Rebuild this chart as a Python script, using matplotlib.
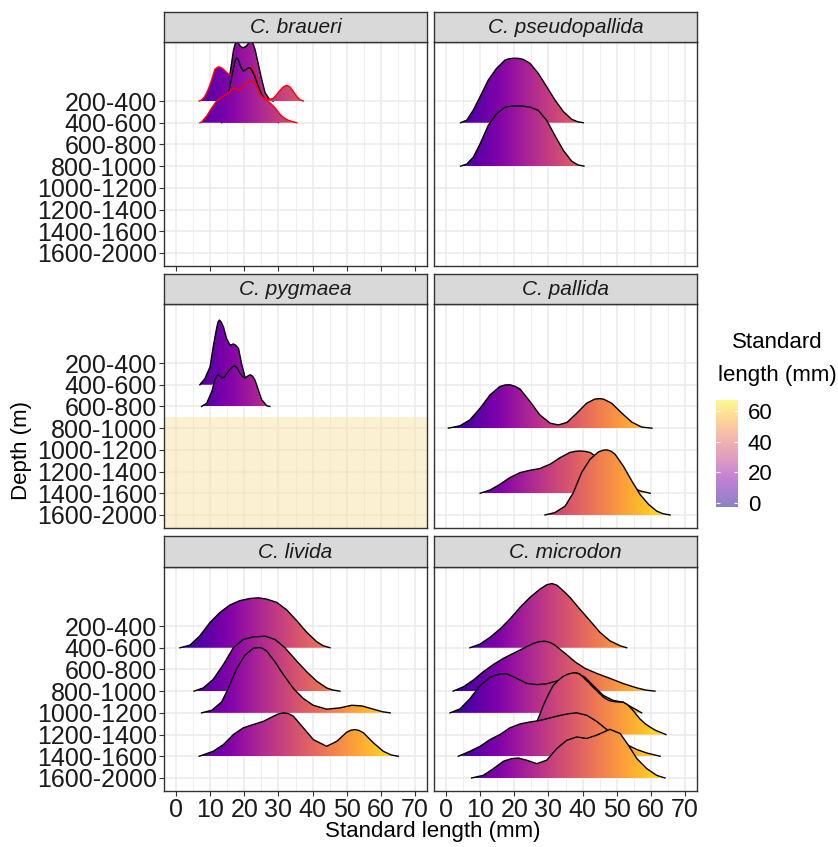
import numpy as np
import matplotlib
matplotlib.use("Agg")
import matplotlib.pyplot as plt
from matplotlib.patches import Polygon

plt.rcParams['font.family'] = ['Liberation Sans', 'DejaVu Sans']

# categories
species = ["C. braueri", "C. pseudopallida", "C. pygmaea",
           "C. pallida", "C. livida", "C. microdon"]
depths = ["200-400", "400-600", "600-800", "800-1000",
          "1000-1200", "1200-1400", "1400-1600", "1600-2000"]
x_ticks = [0, 10, 20, 30, 40, 50, 60, 70]
legend_ticks = [0, 20, 40, 60]
fill_min, fill_max = -2.6, 67.2

# ridge outlines: standard length (mm) and ridge height (in depth-row units)
braueri_200_black_x = [14.0, 14.4, 15.3, 16.3, 16.8, 17.3, 17.8, 18.3, 18.9, 19.7, 20.5, 21.3, 22.0, 22.6, 23.2, 23.6, 24.4, 25.1, 26.1, 27.5, 28.5]
braueri_200_black_h = [0.0, 0.05, 0.69, 1.76, 2.3, 2.62, 2.72, 2.66, 2.52, 2.45, 2.52, 2.67, 2.72, 2.64, 2.35, 2.07, 1.5, 1.0, 0.38, 0.05, 0.0]
braueri_200_red_x = [6.8, 7.5, 8.3, 9.0, 9.8, 10.5, 11.4, 12.4, 13.2, 13.9, 15.3, 17.0, 19.0, 21.0, 22.2, 23.2, 24.2, 25.1, 26.1, 27.5, 28.5, 29.5, 30.5, 31.5, 32.4, 33.3, 34.2, 35.3, 36.3, 37.3]
braueri_200_red_h = [0.0, 0.05, 0.18, 0.38, 0.68, 1.0, 1.46, 1.58, 1.54, 1.46, 1.25, 1.2, 1.3, 1.5, 1.55, 1.2, 0.55, 0.2, 0.1, 0.08, 0.12, 0.3, 0.5, 0.66, 0.72, 0.66, 0.48, 0.22, 0.06, 0.0]
braueri_400_black_x = [13.4, 13.9, 14.8, 15.8, 16.3, 16.8, 17.3, 17.8, 18.3, 18.9, 19.7, 20.5, 21.2, 21.7, 22.3, 23.0, 24.1, 25.1, 26.1, 27.0, 28.0, 29.0, 30.0]
braueri_400_black_h = [0.0, 0.31, 0.92, 1.69, 2.1, 2.46, 2.85, 3.0, 2.88, 2.6, 2.38, 2.45, 2.53, 2.53, 2.4, 2.15, 1.69, 1.31, 1.08, 0.7, 0.4, 0.15, 0.0]
braueri_400_red_x = [7.0, 7.5, 9.0, 10.5, 11.9, 13.9, 15.3, 16.8, 18.3, 19.3, 20.2, 21.2, 22.2, 23.0, 23.6, 24.6, 26.1, 27.5, 29.0, 30.5, 31.5, 32.4, 33.5, 35.4]
braueri_400_red_h = [0.0, 0.03, 0.31, 0.69, 1.0, 1.23, 1.38, 1.61, 1.51, 1.6, 1.77, 1.88, 1.92, 1.85, 1.69, 1.31, 1.08, 0.92, 0.69, 0.38, 0.24, 0.15, 0.08, 0.0]

pseudopallida_400_x = [4.3, 6.1, 8.0, 10.0, 12.4, 14.8, 17.3, 18.5, 19.7, 21.0, 22.6, 24.6, 27.0, 29.5, 31.9, 34.4, 36.8, 38.5, 40.2]
pseudopallida_400_h = [0.0, 0.12, 0.58, 1.2, 1.97, 2.5, 2.89, 2.95, 2.97, 2.97, 2.92, 2.74, 2.28, 1.66, 1.05, 0.51, 0.16, 0.05, 0.0]
pseudopallida_800_x = [4.3, 6.1, 8.0, 10.0, 12.4, 14.8, 17.3, 19.7, 22.1, 24.6, 27.0, 29.5, 31.9, 34.4, 36.8, 38.6, 40.4]
pseudopallida_800_h = [0.0, 0.1, 0.41, 1.03, 1.88, 2.41, 2.72, 2.77, 2.77, 2.72, 2.57, 2.11, 1.41, 0.72, 0.23, 0.06, 0.0]

pygmaea_400_x = [7.0, 8.5, 10.0, 10.9, 11.9, 12.3, 12.7, 13.2, 13.9, 14.8, 15.8, 16.3, 16.8, 17.5, 18.3, 19.2, 20.2, 21.2]
pygmaea_400_h = [0.0, 0.29, 0.83, 1.75, 2.6, 2.88, 2.98, 2.9, 2.67, 2.14, 1.83, 1.84, 1.88, 1.82, 1.68, 0.98, 0.37, 0.0]
pygmaea_600_x = [7.5, 9.0, 10.5, 11.4, 11.9, 12.4, 13.0, 13.9, 14.6, 15.3, 16.5, 17.3, 18.0, 18.7, 19.5, 20.2, 21.0, 21.7, 22.4, 23.1, 24.1, 25.1, 26.6, 27.5]
pygmaea_600_h = [0.0, 0.15, 0.69, 1.23, 1.4, 1.46, 1.38, 1.31, 1.45, 1.61, 1.82, 1.87, 1.76, 1.54, 1.38, 1.31, 1.4, 1.46, 1.4, 1.23, 0.77, 0.31, 0.03, 0.0]

pallida_800_x = [0.7, 4.1, 7.0, 10.0, 12.9, 15.8, 17.3, 18.7, 20.2, 21.7, 24.6, 27.5, 30.5, 32.9, 35.4, 38.3, 41.2, 43.6, 44.9, 46.1, 48.5, 51.5, 54.4, 57.3, 60.3]
pallida_800_h = [0.0, 0.11, 0.38, 0.92, 1.53, 1.92, 1.99, 2.0, 1.93, 1.8, 1.23, 0.61, 0.23, 0.15, 0.26, 0.69, 1.15, 1.34, 1.36, 1.34, 1.15, 0.69, 0.28, 0.05, 0.0]
pallida_1400_x = [10.0, 12.9, 15.8, 18.7, 21.7, 24.6, 27.5, 30.5, 33.4, 36.3, 37.8, 39.2, 40.7, 42.2, 45.1, 48.0, 51.0, 53.9, 56.8, 59.8]
pallida_1400_h = [0.0, 0.15, 0.41, 0.72, 0.95, 1.06, 1.14, 1.34, 1.64, 1.88, 1.93, 1.95, 1.93, 1.88, 1.57, 1.18, 0.72, 0.34, 0.11, 0.0]
pallida_1600_x = [29.0, 31.9, 34.9, 37.3, 39.7, 42.2, 44.6, 45.9, 47.1, 48.3, 49.5, 51.9, 54.4, 56.8, 59.3, 61.7, 63.5, 65.6]
pallida_1600_h = [0.0, 0.11, 0.41, 1.03, 1.95, 2.57, 2.9, 2.98, 3.0, 2.94, 2.8, 2.26, 1.57, 0.95, 0.49, 0.18, 0.06, 0.0]

livida_400_x = [1.2, 4.1, 7.0, 10.0, 12.9, 15.8, 18.7, 21.7, 24.1, 26.6, 29.5, 32.4, 35.4, 38.3, 41.2, 43.0, 45.1]
livida_400_h = [0.0, 0.12, 0.55, 1.17, 1.63, 1.97, 2.17, 2.27, 2.3, 2.24, 2.09, 1.75, 1.24, 0.71, 0.28, 0.1, 0.0]
livida_800_x = [5.3, 8.0, 10.9, 13.9, 16.8, 19.7, 22.6, 26.1, 29.0, 31.9, 35.4, 38.3, 41.2, 44.1, 46.0, 48.0]
livida_800_h = [0.0, 0.15, 0.54, 1.23, 2.0, 2.38, 2.5, 2.53, 2.38, 2.0, 1.38, 0.89, 0.46, 0.15, 0.05, 0.0]
livida_1000_x = [7.5, 10.5, 13.4, 15.3, 17.8, 20.2, 22.6, 23.6, 24.6, 25.6, 26.6, 29.0, 31.4, 34.4, 37.3, 40.2, 44.1, 48.0, 51.5, 54.4, 57.8, 60.5, 62.7]
livida_1000_h = [0.0, 0.12, 0.51, 1.12, 2.05, 2.66, 2.97, 3.0, 3.01, 2.95, 2.84, 2.35, 1.77, 1.12, 0.66, 0.35, 0.17, 0.23, 0.35, 0.32, 0.17, 0.05, 0.0]
livida_1400_x = [6.8, 10.9, 13.9, 16.8, 19.7, 22.6, 25.6, 28.5, 30.0, 31.4, 32.9, 34.4, 37.3, 40.2, 44.1, 47.1, 50.0, 51.2, 52.4, 53.6, 54.9, 57.8, 60.7, 63.0, 65.1]
livida_1400_h = [0.0, 0.23, 0.54, 1.0, 1.31, 1.46, 1.61, 1.84, 1.95, 2.0, 1.97, 1.84, 1.31, 0.77, 0.46, 0.69, 1.11, 1.2, 1.23, 1.19, 1.08, 0.62, 0.23, 0.06, 0.0]

microdon_400_x = [7.0, 10.0, 12.9, 15.8, 18.7, 21.7, 24.6, 27.5, 29.5, 31.0, 32.5, 34.5, 36.3, 39.2, 42.2, 45.1, 48.0, 51.0, 52.9]
microdon_400_h = [0.0, 0.17, 0.48, 0.86, 1.32, 1.86, 2.32, 2.7, 2.9, 2.96, 2.88, 2.6, 2.32, 1.78, 1.24, 0.71, 0.32, 0.09, 0.0]
microdon_800_x = [2.1, 5.1, 8.0, 10.9, 13.9, 16.8, 19.7, 22.6, 25.6, 27.3, 29.0, 30.5, 31.9, 34.9, 37.8, 40.7, 44.1, 48.0, 51.9, 55.9, 58.5, 61.2]
microdon_800_h = [0.0, 0.2, 0.51, 0.89, 1.23, 1.51, 1.74, 1.97, 2.2, 2.28, 2.3, 2.24, 2.12, 1.74, 1.35, 1.05, 0.82, 0.59, 0.35, 0.15, 0.05, 0.0]
microdon_1000_x = [1.2, 4.1, 7.0, 10.0, 12.9, 15.8, 17.8, 20.7, 23.6, 26.6, 29.5, 32.9, 35.8, 38.3, 40.7, 43.1, 46.1, 49.0, 51.9, 54.4, 57.3]
microdon_1000_h = [0.0, 0.18, 0.65, 1.26, 1.64, 1.8, 1.8, 1.59, 1.36, 1.3, 1.34, 1.49, 1.72, 1.84, 1.64, 1.26, 0.8, 0.57, 0.49, 0.26, 0.0]
microdon_1200_x = [21.0, 23.0, 24.6, 26.1, 27.3, 28.5, 30.0, 31.4, 32.9, 34.4, 36.0, 37.5, 39.0, 40.2, 41.6, 43.1, 44.6, 46.1, 47.6, 49.0, 50.5, 51.9, 53.1, 54.4, 55.6, 56.8, 58.3, 59.8, 61.3, 62.7, 64.4]
microdon_1200_h = [0.0, 0.08, 0.2, 0.41, 0.85, 1.34, 1.85, 2.26, 2.5, 2.69, 2.8, 2.85, 2.8, 2.64, 2.42, 2.18, 1.95, 1.72, 1.58, 1.52, 1.5, 1.49, 1.38, 1.18, 0.95, 0.72, 0.5, 0.34, 0.2, 0.11, 0.0]
microdon_1400_x = [3.6, 7.0, 10.0, 12.9, 15.8, 18.7, 21.7, 24.6, 27.5, 30.5, 33.4, 36.3, 38.3, 41.2, 44.1, 47.1, 50.0, 52.9, 55.9, 58.8, 62.7]
microdon_1400_h = [0.0, 0.23, 0.46, 0.77, 1.0, 1.31, 1.49, 1.58, 1.65, 1.77, 1.88, 1.97, 2.0, 1.89, 1.61, 1.23, 0.85, 0.54, 0.31, 0.15, 0.0]
microdon_1600_x = [7.5, 10.9, 13.9, 16.8, 19.2, 21.2, 23.6, 26.6, 29.5, 32.4, 35.4, 38.3, 41.2, 44.1, 48.0, 51.0, 53.4, 55.9, 58.8, 61.7, 64.1]
microdon_1600_h = [0.0, 0.12, 0.43, 0.77, 0.89, 0.92, 0.82, 0.66, 0.82, 1.35, 1.74, 1.89, 1.82, 1.97, 2.24, 2.05, 1.51, 0.89, 0.43, 0.12, 0.0]

# drawing order: upper rows first so lower ridges overlap them
ridges = [
    ("C. braueri", "200-400", "black", braueri_200_black_x, braueri_200_black_h),
    ("C. braueri", "200-400", "red", braueri_200_red_x, braueri_200_red_h),
    ("C. braueri", "400-600", "black", braueri_400_black_x, braueri_400_black_h),
    ("C. braueri", "400-600", "red", braueri_400_red_x, braueri_400_red_h),
    ("C. pseudopallida", "400-600", "black", pseudopallida_400_x, pseudopallida_400_h),
    ("C. pseudopallida", "800-1000", "black", pseudopallida_800_x, pseudopallida_800_h),
    ("C. pygmaea", "400-600", "black", pygmaea_400_x, pygmaea_400_h),
    ("C. pygmaea", "600-800", "black", pygmaea_600_x, pygmaea_600_h),
    ("C. pallida", "800-1000", "black", pallida_800_x, pallida_800_h),
    ("C. pallida", "1400-1600", "black", pallida_1400_x, pallida_1400_h),
    ("C. pallida", "1600-2000", "black", pallida_1600_x, pallida_1600_h),
    ("C. livida", "400-600", "black", livida_400_x, livida_400_h),
    ("C. livida", "800-1000", "black", livida_800_x, livida_800_h),
    ("C. livida", "1000-1200", "black", livida_1000_x, livida_1000_h),
    ("C. livida", "1400-1600", "black", livida_1400_x, livida_1400_h),
    ("C. microdon", "400-600", "black", microdon_400_x, microdon_400_h),
    ("C. microdon", "800-1000", "black", microdon_800_x, microdon_800_h),
    ("C. microdon", "1000-1200", "black", microdon_1000_x, microdon_1000_h),
    ("C. microdon", "1200-1400", "black", microdon_1200_x, microdon_1200_h),
    ("C. microdon", "1400-1600", "black", microdon_1400_x, microdon_1400_h),
    ("C. microdon", "1600-2000", "black", microdon_1600_x, microdon_1600_h),
]

W, H = 838, 847
fig = plt.figure(figsize=(W / 100, H / 100), dpi=100)


def box(x0, y0, x1, y1):
    # pixel box (top-left origin) -> figure fraction rect
    return [x0 / W, 1 - y1 / H, (x1 - x0) / W, (y1 - y0) / H]


def row_pos(depth):
    return len(depths) - depths.index(depth)


cols = [(164, 427), (434, 697)]
rows = [(12, 42, 266), (274, 304, 528), (536, 567, 791)]
XLIM = (-3.5, 73.5)
YLIM = (0.4, 10.72)
edge = '#333333'

axes = {}
for i, sp in enumerate(species):
    r, c = divmod(i, 2)
    x0, x1 = cols[c]
    s0, p0, p1 = rows[r]
    ax = fig.add_axes(box(x0, p0, x1, p1))
    axes[sp] = ax
    ax.set_facecolor('white')
    ax.set_axisbelow(True)
    ax.set_xticks(x_ticks)
    ax.set_xticks([5, 15, 25, 35, 45, 55, 65], minor=True)
    ax.set_yticks([row_pos(d) for d in depths])
    ax.set_yticklabels(depths)
    ax.grid(which='major', color='#EBEBEB', lw=1.1)
    ax.grid(which='minor', axis='x', color='#EBEBEB', lw=0.6)
    for s in ax.spines.values():
        s.set_color(edge)
        s.set_linewidth(1.0)
    ax.tick_params(which='minor', length=0)
    ax.tick_params(which='major', length=3.5, width=0.8, color=edge,
                   labelsize=18, labelcolor='#1a1a1a', pad=1.5)
    if c == 1:
        ax.tick_params(axis='y', left=False, labelleft=False)
    if r < 2:
        ax.tick_params(axis='x', labelbottom=False)
        if not (r == 0 and c == 0):
            ax.tick_params(axis='x', bottom=False)

    # facet strip
    sax = fig.add_axes(box(x0, s0, x1, p0))
    sax.set_facecolor('#D9D9D9')
    sax.set_xticks([])
    sax.set_yticks([])
    for s in sax.spines.values():
        s.set_color(edge)
        s.set_linewidth(1.0)
    sax.text(0.5, 0.48, sp, ha='center', va='center', fontsize=15,
             style='italic', color='#1a1a1a', transform=sax.transAxes)

# depths outside the sampled range for C. pygmaea
axes["C. pygmaea"].axhspan(YLIM[0] - 1, 5.5, facecolor='#fbe3a6', alpha=0.5,
                           edgecolor='none', zorder=1)

gradient = np.linspace(fill_min, fill_max, 512).reshape(1, -1)
z = 2
for sp, depth, col, xs, hs in ridges:
    ax = axes[sp]
    base = row_pos(depth)
    xs = np.asarray(xs)
    top = base + np.asarray(hs)
    verts = [(xs[0], base)] + list(zip(xs, top)) + [(xs[-1], base)]
    poly = Polygon(verts, closed=True, facecolor='none', edgecolor='none')
    ax.add_patch(poly)
    img = ax.imshow(gradient, cmap='plasma', vmin=fill_min, vmax=fill_max,
                    extent=(fill_min, fill_max, base, top.max()),
                    origin='lower', aspect='auto', interpolation='bilinear',
                    zorder=z)
    img.set_clip_path(poly)
    ax.plot(xs, top, color=col, lw=1.0, zorder=z + 0.5,
            solid_joinstyle='round')
    z += 1

for ax in axes.values():
    ax.set_xlim(*XLIM)
    ax.set_ylim(*YLIM)

fig.text(433 / W, 1 - 831 / H, "Standard length (mm)", ha='center',
         va='center', fontsize=16)
fig.text(22 / W, 1 - 450 / H, "Depth (m)", ha='center', va='center',
         rotation=90, fontsize=16)

# colour legend
cax = fig.add_axes(box(716, 400, 738, 507))
cax.imshow(np.linspace(fill_min, fill_max, 256).reshape(-1, 1), cmap='plasma',
           alpha=0.5, extent=(0, 1, fill_min, fill_max), origin='lower',
           aspect='auto')
cax.set_xlim(0, 1)
cax.set_ylim(fill_min, fill_max)
cax.hlines(legend_ticks, 0, 0.2, color='white', lw=0.8)
cax.hlines(legend_ticks, 0.8, 1, color='white', lw=0.8)
cax.set_xticks([])
cax.set_yticks(legend_ticks)
cax.tick_params(axis='y', length=0, left=False, labelleft=False,
                right=True, labelright=True, labelsize=16, pad=7)
for s in cax.spines.values():
    s.set_visible(False)
fig.text(777 / W, 1 - 342 / H, "Standard", ha='center', va='center', fontsize=16)
fig.text(777 / W, 1 - 375 / H, "length (mm)", ha='center', va='center', fontsize=16)

fig.savefig("out.png", dpi=100)
